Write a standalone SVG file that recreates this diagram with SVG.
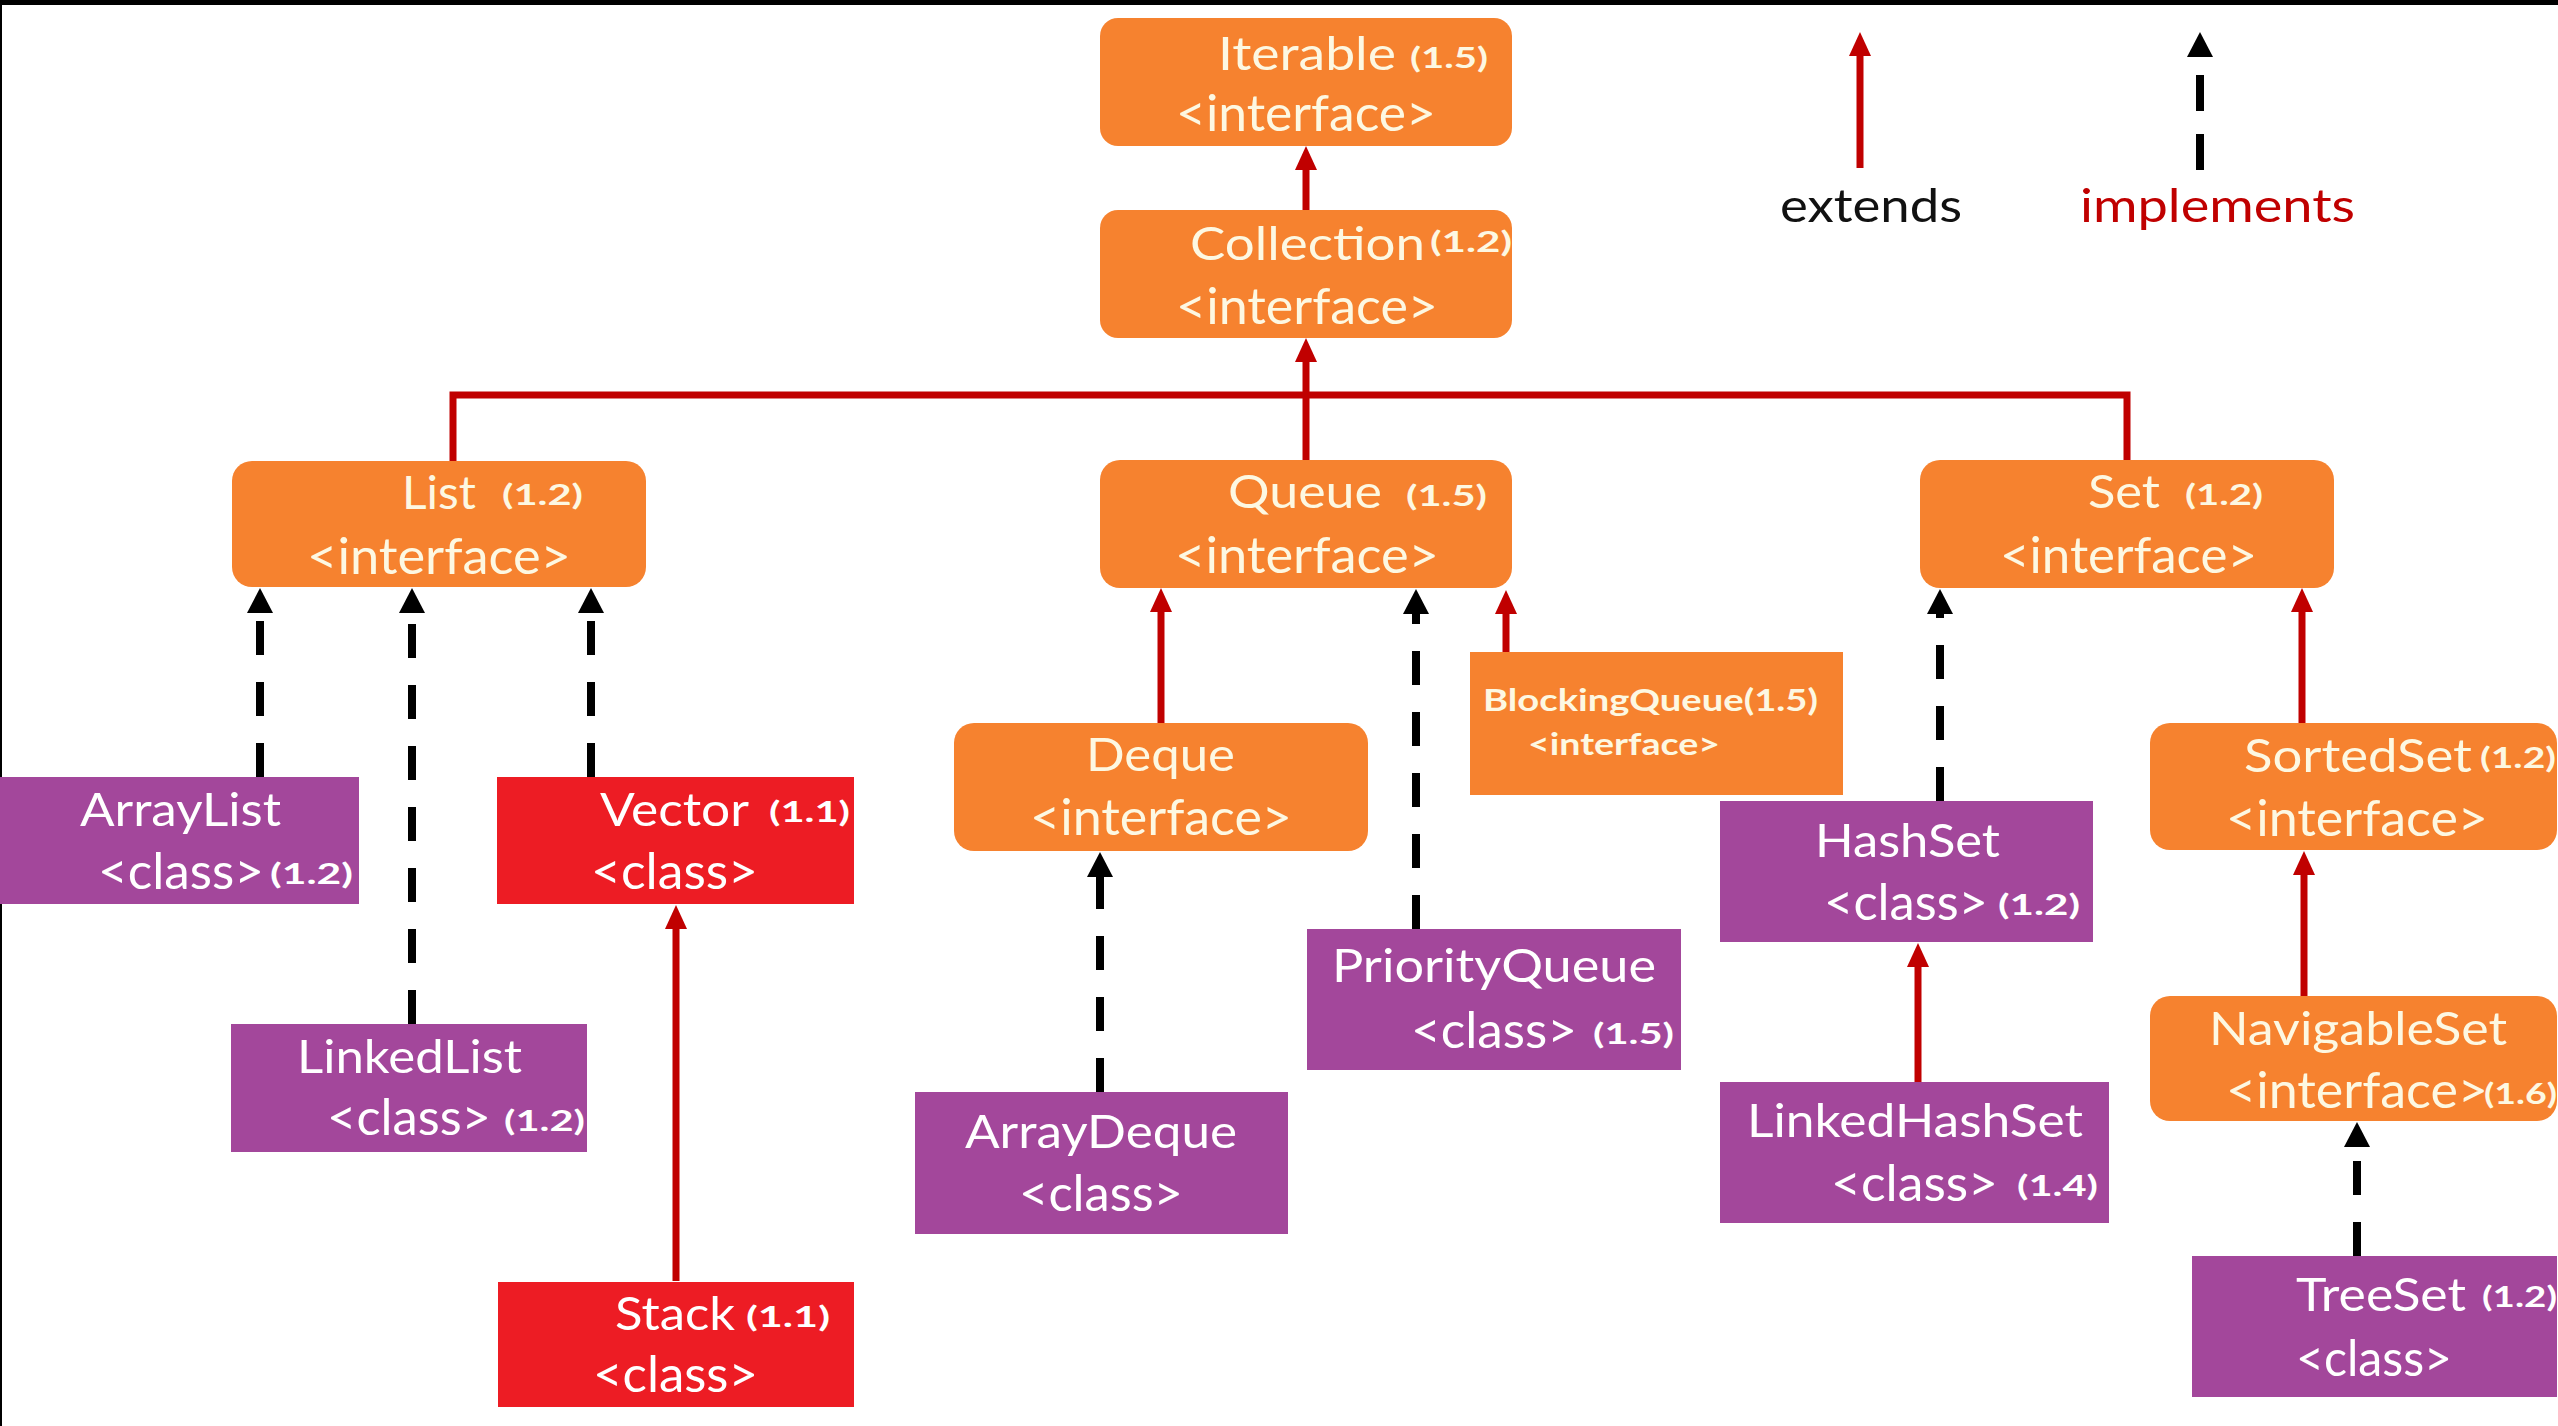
<svg xmlns="http://www.w3.org/2000/svg" width="2558" height="1426" viewBox="0 0 2558 1426">
<style>
.iface{fill:#f6822f}
.cls{fill:#a3479b}
.redc{fill:#ed1c24}
.t{font-family:Lato,"Liberation Sans",sans-serif;font-size:46px;fill:#ffffff}
.s{font-size:51px}
.o{fill:#fdf8e2}
.v{font-size:29px;font-weight:bold}
.b{font-size:30px;font-weight:bold}
.ext{stroke:#c00000;stroke-width:7;fill:none}
.imp{stroke:#000;stroke-width:8;stroke-dasharray:34 27;fill:none}
</style>
<defs>
<marker id="ahr" markerUnits="userSpaceOnUse" markerWidth="26" markerHeight="22" viewBox="0 0 26 22" refX="0" refY="11" orient="auto"><path d="M0,0 L24,11 L0,22 z" fill="#c00000"/></marker>
<marker id="ahb" markerUnits="userSpaceOnUse" markerWidth="26" markerHeight="26" viewBox="0 0 26 26" refX="0" refY="13" orient="auto"><path d="M0,0 L25,13 L0,26 z" fill="#000"/></marker>
</defs>
<rect x="0" y="0" width="2558" height="1426" fill="#ffffff"/>
<rect x="0" y="0" width="2558" height="5" fill="#000"/>
<rect x="0" y="0" width="2" height="1426" fill="#000"/>

<g id="connectors">
<path class="ext" d="M1306,210 V170" marker-end="url(#ahr)"/>
<path class="ext" d="M1306,460 V362" marker-end="url(#ahr)"/>
<path class="ext" d="M453,461 V395 H2127 V460"/>
<path class="ext" d="M1161,723 V612" marker-end="url(#ahr)"/>
<path class="ext" d="M1506,652 V614" marker-end="url(#ahr)"/>
<path class="ext" d="M676,1281 V929" marker-end="url(#ahr)"/>
<path class="ext" d="M2302,723 V612" marker-end="url(#ahr)"/>
<path class="ext" d="M2304,996 V875" marker-end="url(#ahr)"/>
<path class="ext" d="M1918,1082 V967" marker-end="url(#ahr)"/>
<path class="imp" d="M260,777 V613" marker-end="url(#ahb)"/>
<path class="imp" d="M412,1024 V613" marker-end="url(#ahb)"/>
<path class="imp" d="M591,777 V613" marker-end="url(#ahb)"/>
<path class="imp" d="M1100,1092 V877" marker-end="url(#ahb)"/>
<path class="imp" d="M1416,929 V614" marker-end="url(#ahb)"/>
<path class="imp" d="M1940,801 V614" marker-end="url(#ahb)"/>
<path class="imp" d="M2357,1256 V1147" marker-end="url(#ahb)"/>
</g>

<g id="legend">
<path class="ext" d="M1860,168 V56" marker-end="url(#ahr)"/>
<path class="imp" d="M2200,170 V57" style="stroke-dasharray:36 23" marker-end="url(#ahb)"/>
<text class="t" x="1780" y="222" textLength="182" lengthAdjust="spacingAndGlyphs" style="fill:#111">extends</text>
<text class="t" x="2080" y="222" textLength="275" lengthAdjust="spacingAndGlyphs" style="fill:#c00000">implements</text>
</g>

<g id="iterable">
<rect class="iface" x="1100" y="18" width="412" height="128" rx="18"/>
<text class="t o" x="1218" y="70" textLength="178" lengthAdjust="spacingAndGlyphs">Iterable</text>
<text class="t o v" x="1410" y="68" textLength="78" lengthAdjust="spacingAndGlyphs">(1.5)</text>
<text class="t o s" x="1176" y="131" textLength="260" lengthAdjust="spacingAndGlyphs">&lt;interface&gt;</text>
</g>

<g id="collection">
<rect class="iface" x="1100" y="210" width="412" height="128" rx="18"/>
<text class="t o" x="1190" y="260" textLength="235" lengthAdjust="spacingAndGlyphs">Collection</text>
<text class="t o v" x="1430" y="252" textLength="82" lengthAdjust="spacingAndGlyphs">(1.2)</text>
<text class="t o s" x="1176" y="324" textLength="262" lengthAdjust="spacingAndGlyphs">&lt;interface&gt;</text>
</g>

<g id="list">
<rect class="iface" x="232" y="461" width="414" height="126" rx="20"/>
<text class="t o" x="402" y="509" textLength="74" lengthAdjust="spacingAndGlyphs">List</text>
<text class="t o v" x="502" y="505" textLength="81" lengthAdjust="spacingAndGlyphs">(1.2)</text>
<text class="t o s" x="307" y="574" textLength="264" lengthAdjust="spacingAndGlyphs">&lt;interface&gt;</text>
</g>

<g id="queue">
<rect class="iface" x="1100" y="460" width="412" height="128" rx="20"/>
<text class="t o" x="1228" y="508" textLength="154" lengthAdjust="spacingAndGlyphs">Queue</text>
<text class="t o v" x="1406" y="506" textLength="81" lengthAdjust="spacingAndGlyphs">(1.5)</text>
<text class="t o s" x="1175" y="573" textLength="264" lengthAdjust="spacingAndGlyphs">&lt;interface&gt;</text>
</g>

<g id="set">
<rect class="iface" x="1920" y="460" width="414" height="128" rx="20"/>
<text class="t o" x="2088" y="508" textLength="72" lengthAdjust="spacingAndGlyphs">Set</text>
<text class="t o v" x="2185" y="505" textLength="78" lengthAdjust="spacingAndGlyphs">(1.2)</text>
<text class="t o s" x="2000" y="573" textLength="257" lengthAdjust="spacingAndGlyphs">&lt;interface&gt;</text>
</g>

<g id="arraylist">
<rect class="cls" x="0" y="777" width="359" height="127"/>
<text class="t" x="80" y="826" textLength="201" lengthAdjust="spacingAndGlyphs">ArrayList</text>
<text class="t s" x="98" y="889" textLength="166" lengthAdjust="spacingAndGlyphs">&lt;class&gt;</text>
<text class="t v" x="270" y="884" textLength="83" lengthAdjust="spacingAndGlyphs">(1.2)</text>
</g>

<g id="vector">
<rect class="redc" x="497" y="777" width="357" height="127"/>
<text class="t" x="600" y="826" textLength="149" lengthAdjust="spacingAndGlyphs">Vector</text>
<text class="t v" x="769" y="822" textLength="81" lengthAdjust="spacingAndGlyphs">(1.1)</text>
<text class="t s" x="591" y="889" textLength="167" lengthAdjust="spacingAndGlyphs">&lt;class&gt;</text>
</g>

<g id="linkedlist">
<rect class="cls" x="231" y="1024" width="356" height="128"/>
<text class="t" x="297" y="1073" textLength="225" lengthAdjust="spacingAndGlyphs">LinkedList</text>
<text class="t s" x="327" y="1135" textLength="164" lengthAdjust="spacingAndGlyphs">&lt;class&gt;</text>
<text class="t v" x="504" y="1131" textLength="81" lengthAdjust="spacingAndGlyphs">(1.2)</text>
</g>

<g id="stack">
<rect class="redc" x="498" y="1282" width="356" height="125"/>
<text class="t" x="615" y="1330" textLength="120" lengthAdjust="spacingAndGlyphs">Stack</text>
<text class="t v" x="746" y="1327" textLength="84" lengthAdjust="spacingAndGlyphs">(1.1)</text>
<text class="t s" x="593" y="1392" textLength="165" lengthAdjust="spacingAndGlyphs">&lt;class&gt;</text>
</g>

<g id="deque">
<rect class="iface" x="954" y="723" width="414" height="128" rx="20"/>
<text class="t o" x="1086" y="771" textLength="149" lengthAdjust="spacingAndGlyphs">Deque</text>
<text class="t o s" x="1030" y="835" textLength="262" lengthAdjust="spacingAndGlyphs">&lt;interface&gt;</text>
</g>

<g id="blockingqueue">
<rect class="iface" x="1470" y="652" width="373" height="143"/>
<text class="t o b" x="1483" y="711" textLength="335" lengthAdjust="spacingAndGlyphs">BlockingQueue(1.5)</text>
<text class="t o b" x="1528" y="755" textLength="192" lengthAdjust="spacingAndGlyphs">&lt;interface&gt;</text>
</g>

<g id="arraydeque">
<rect class="cls" x="915" y="1092" width="373" height="142"/>
<text class="t" x="965" y="1148" textLength="272" lengthAdjust="spacingAndGlyphs">ArrayDeque</text>
<text class="t s" x="1019" y="1211" textLength="164" lengthAdjust="spacingAndGlyphs">&lt;class&gt;</text>
</g>

<g id="priorityqueue">
<rect class="cls" x="1307" y="929" width="374" height="141"/>
<text class="t" x="1332" y="982" textLength="324" lengthAdjust="spacingAndGlyphs">PriorityQueue</text>
<text class="t s" x="1411" y="1048" textLength="166" lengthAdjust="spacingAndGlyphs">&lt;class&gt;</text>
<text class="t v" x="1593" y="1044" textLength="81" lengthAdjust="spacingAndGlyphs">(1.5)</text>
</g>

<g id="hashset">
<rect class="cls" x="1720" y="801" width="373" height="141"/>
<text class="t" x="1815" y="857" textLength="185" lengthAdjust="spacingAndGlyphs">HashSet</text>
<text class="t s" x="1824" y="920" textLength="164" lengthAdjust="spacingAndGlyphs">&lt;class&gt;</text>
<text class="t v" x="1998" y="915" textLength="82" lengthAdjust="spacingAndGlyphs">(1.2)</text>
</g>

<g id="linkedhashset">
<rect class="cls" x="1720" y="1082" width="389" height="141"/>
<text class="t" x="1747" y="1137" textLength="336" lengthAdjust="spacingAndGlyphs">LinkedHashSet</text>
<text class="t s" x="1831" y="1201" textLength="167" lengthAdjust="spacingAndGlyphs">&lt;class&gt;</text>
<text class="t v" x="2017" y="1196" textLength="81" lengthAdjust="spacingAndGlyphs">(1.4)</text>
</g>

<g id="sortedset">
<rect class="iface" x="2150" y="723" width="407" height="127" rx="20"/>
<text class="t o" x="2244" y="772" textLength="228" lengthAdjust="spacingAndGlyphs">SortedSet</text>
<text class="t o v" x="2480" y="768" textLength="76" lengthAdjust="spacingAndGlyphs">(1.2)</text>
<text class="t o s" x="2226" y="836" textLength="262" lengthAdjust="spacingAndGlyphs">&lt;interface&gt;</text>
</g>

<g id="navigableset">
<rect class="iface" x="2150" y="996" width="407" height="125" rx="20"/>
<text class="t o" x="2209" y="1045" textLength="298" lengthAdjust="spacingAndGlyphs">NavigableSet</text>
<text class="t o s" x="2226" y="1108" textLength="262" lengthAdjust="spacingAndGlyphs">&lt;interface&gt;</text>
<text class="t o v" x="2484" y="1104" textLength="73" lengthAdjust="spacingAndGlyphs">(1.6)</text>
</g>

<g id="treeset">
<rect class="cls" x="2192" y="1256" width="365" height="141"/>
<text class="t" x="2296" y="1311" textLength="170" lengthAdjust="spacingAndGlyphs">TreeSet</text>
<text class="t v" x="2482" y="1307" textLength="75" lengthAdjust="spacingAndGlyphs">(1.2)</text>
<text class="t s" x="2296" y="1376" textLength="156" lengthAdjust="spacingAndGlyphs">&lt;class&gt;</text>
</g>
</svg>
